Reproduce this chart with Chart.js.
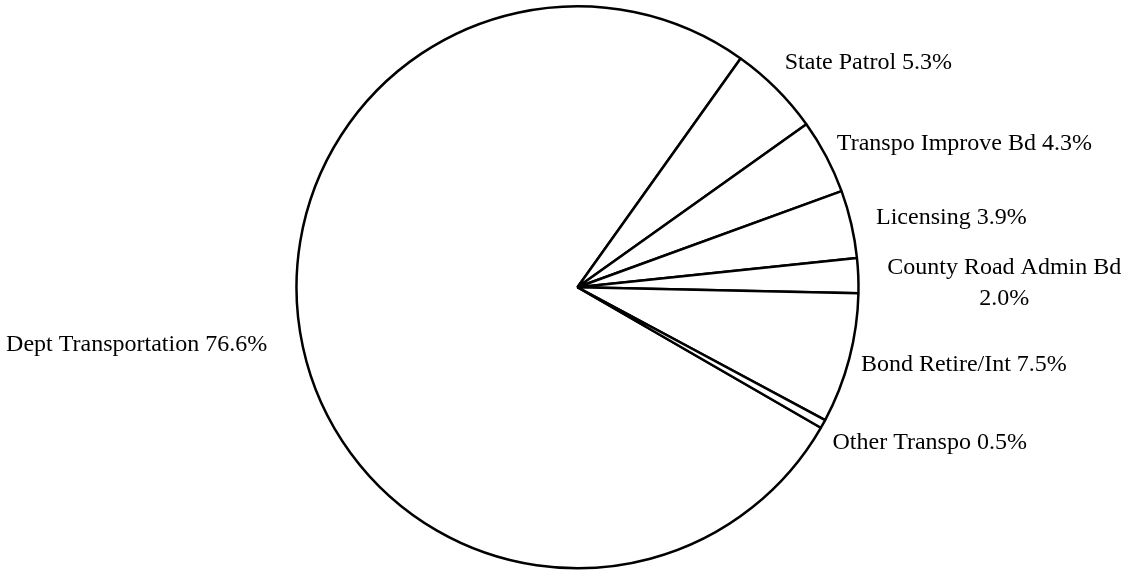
<!DOCTYPE html>
<html>
<head>
<meta charset="utf-8">
<script src="https://cdn.jsdelivr.net/npm/chart.js@4"></script>
<style>
  html, body { margin: 0; padding: 0; background: #fff; }
  #wrap { width: 1128px; height: 573px; }
</style>
</head>
<body>
<div id="wrap"><canvas id="pie" width="1128" height="573"></canvas></div>
<script>
// data
const categories = ['Dept Transportation', 'State Patrol', 'Transpo Improve Bd', 'Licensing',
                    'County Road Admin Bd', 'Bond Retire/Int', 'Other Transpo'];
const shares = [76.6, 5.3, 4.3, 3.9, 2.0, 7.5, 0.5];

// small hand nudges for the outside labels (dx, dy), plus which label wraps
const labelNudge = [
    { dx: -24, dy: -5 },
    { dx: 0, dy: -17 },
    { dx: 0, dy: -7 },
    { dx: 13, dy: -4 },
    { dx: 17, dy: 8, wrap: true },
    { dx: 0, dy: 3 },
    { dx: -1, dy: 13 }
];

const pieLabels = {
    id: 'pieLabels',
    afterDatasetsDraw(chart) {
        const ctx = chart.ctx;
        const meta = chart.getDatasetMeta(0);
        ctx.save();
        ctx.font = '24px "Liberation Serif", "Times New Roman", serif';
        ctx.fillStyle = '#000';
        ctx.textBaseline = 'middle';
        meta.data.forEach((arc, i) => {
            const { x, y, startAngle, endAngle, outerRadius } = arc.getProps(['x', 'y', 'startAngle', 'endAngle', 'outerRadius'], true);
            const mid = (startAngle + endAngle) / 2;
            const r = outerRadius + 12;
            const n = labelNudge[i];
            let px = x + Math.cos(mid) * r + n.dx;
            let py = y + Math.sin(mid) * r + n.dy;
            const value = shares[i].toFixed(1) + '%';
            const right = Math.cos(mid) >= 0;
            if (n.wrap) {
                const lines = [categories[i], value];
                const w = Math.max(...lines.map(t => ctx.measureText(t).width));
                const cx = right ? px + w / 2 : px - w / 2;
                const lh = 31;
                ctx.textAlign = 'center';
                lines.forEach((t, k) => {
                    ctx.fillText(t, cx, py + (k - (lines.length - 1) / 2) * lh);
                });
            } else {
                ctx.textAlign = right ? 'left' : 'right';
                ctx.fillText(categories[i] + ' ' + value, px, py);
            }
        });
        ctx.restore();
    }
};

new Chart(document.getElementById('pie'), {
    type: 'pie',
    data: {
        labels: categories,
        datasets: [{
            data: shares,
            backgroundColor: '#ffffff',
            borderColor: '#000000',
            borderWidth: 2.5,
            hoverOffset: 0
        }]
    },
    options: {
        responsive: false,
        animation: false,
        rotation: 120,
        layout: { padding: { top: 5, bottom: 3.5, left: 290, right: 263 } },
        plugins: {
            legend: { display: false },
            tooltip: { enabled: false }
        }
    },
    plugins: [pieLabels]
});
</script>
</body>
</html>
